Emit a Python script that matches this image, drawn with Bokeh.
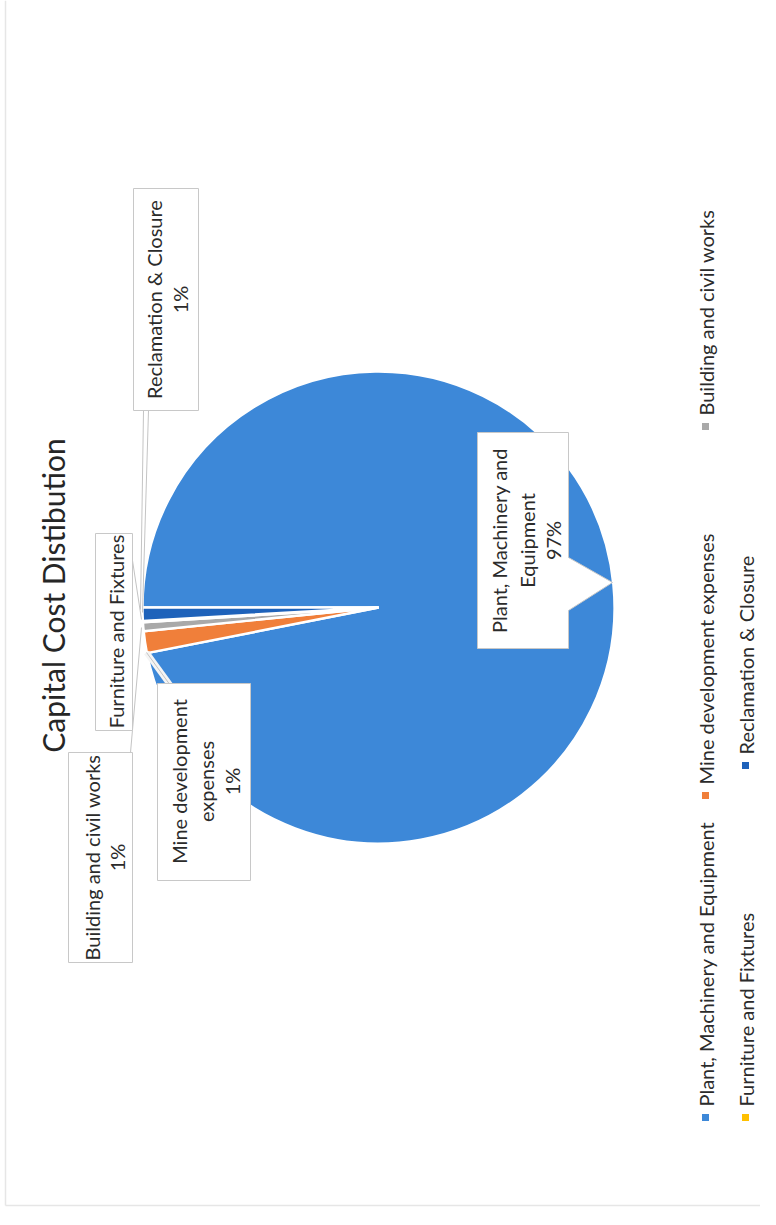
import math
import numpy as np
from bokeh.plotting import figure
from bokeh.models import Range1d
from bokeh.embed import file_html
from bokeh.resources import INLINE
from bokeh.core.properties import value

# ---------------- data ----------------
title = "Capital Cost Distibution"
categories = ["Plant, Machinery and Equipment", "Mine development expenses",
              "Building and civil works", "Furniture and Fixtures",
              "Reclamation & Closure"]
shares = [96.9, 1.5, 0.6, 0.1, 0.9]
colors = ["#3D88D8", "#F07F3A", "#A9A9A9", "#FFC000", "#1E62BA"]
pct_labels = ["97%", "1%", "1%", "", "1%"]

FONT = "Lato"
TXT = "#2b2b2b"

W, H = 760, 1209


def Y(yp):
    # picture pixel row -> data y (y up)
    return H - yp


p = figure(width=W, height=H, x_range=Range1d(0, W), y_range=Range1d(0, H),
           output_backend="svg", toolbar_location=None, min_border=0,
           x_axis_location=None, y_axis_location=None)
p.grid.grid_line_color = None
p.outline_line_color = None
p.background_fill_color = "white"

# faint page edges of the scan
p.line(x=[5, 5], y=[Y(0), Y(1205)], line_color="#e6e6e6", line_width=1.5)
p.line(x=[5, 760], y=[Y(1205), Y(1205)], line_color="#e6e6e6", line_width=1.5)

# ---------------- pie ----------------
cx, cy, R = 378, Y(607), 236
frac = np.array(shares) / sum(shares)
cum = np.concatenate([[0.0], np.cumsum(frac)])
start = math.pi - 2 * math.pi * cum[:-1]
end = math.pi - 2 * math.pi * cum[1:]
p.wedge(x=cx, y=cy, radius=R, start_angle=start, end_angle=end,
        direction="clock", fill_color=colors, line_color="white", line_width=2.4)

# ---------------- leader lines ----------------
LC = "#c4c4c4"
p.line(x=[143, 140], y=[Y(410), Y(609)], line_color=LC, line_width=1)
p.line(x=[148, 142], y=[Y(410), Y(612)], line_color=LC, line_width=1)
p.line(x=[132, 141], y=[Y(560), Y(619)], line_color=LC, line_width=1)
p.line(x=[130, 141], y=[Y(752), Y(627)], line_color=LC, line_width=1)
p.line(x=[170, 146], y=[Y(685), Y(652)], line_color="#f4f4f4", line_width=6)
p.line(x=[170, 146], y=[Y(685), Y(652)], line_color=LC, line_width=1)

# ---------------- label boxes ----------------
BC = "#c8c8c8"
LABEL_SIZE = "20px"


def box(x0, x1, y0, y1):
    p.quad(left=x0, right=x1, top=Y(y0), bottom=Y(y1), fill_color="white",
           line_color=BC, line_width=1)


def rtext(xs, yc, lines, size=LABEL_SIZE, align="center", color=TXT):
    p.text(x=xs, y=[Y(yc)] * len(xs), text=lines, angle=math.pi / 2,
           text_align=align, text_baseline="middle", text_font=value(FONT),
           text_font_size=size, text_color=color)


# Building and civil works
box(68, 132, 752, 962)
rtext([91, 116], 857, [categories[2], pct_labels[2]])
# Furniture and Fixtures
box(95, 132, 533, 730)
rtext([115], 631, [categories[3]])
# Mine development expenses
box(157, 250, 683, 880)
rtext([178, 205, 231], 781, ["Mine development", "expenses", pct_labels[1]])
# Reclamation & Closure
box(133, 198, 188, 410)
rtext([153, 179], 299, [categories[4], pct_labels[4]])

# Plant callout with pointer
px = [477, 568, 568, 612, 568, 568, 477]
py = [432, 432, 557, 582, 610, 648, 648]
p.patch(x=px, y=[Y(v) for v in py], fill_color="white", line_color=BC, line_width=1)
rtext([498, 526, 552], 540, ["Plant, Machinery and", "Equipment", pct_labels[0]])

# ---------------- title ----------------
rtext([52], 595, [title], size="30px", color="#262626")

# ---------------- legend ----------------
leg_x = [705, 705, 705, 745, 745]
leg_y = [1117, 795, 426, 1117, 765]
p.rect(x=leg_x, y=[Y(v) for v in leg_y], width=7, height=7, fill_color=colors,
       line_color=None)
p.text(x=leg_x, y=[Y(v - 11) for v in leg_y], text=categories, angle=math.pi / 2,
       text_align="left", text_baseline="middle", text_font=value(FONT),
       text_font_size="20px", text_color=TXT)

open("out.html", "w").write(file_html(p, INLINE))
